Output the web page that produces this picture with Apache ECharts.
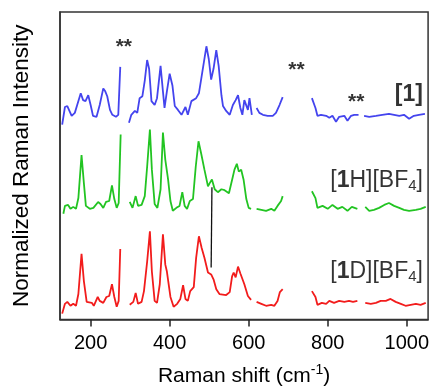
<!DOCTYPE html>
<html><head><meta charset="utf-8">
<script src="https://cdn.jsdelivr.net/npm/echarts@6/dist/echarts.min.js"></script>
<style>html,body{margin:0;padding:0;background:#fff}#c{width:432px;height:392px}</style>
</head><body><div id="c"></div>
<script>
// Raman shift (cm-1), normalized intensity (arbitrary, stacked offsets). '-' marks a gap.
const blue = [[128,199],[135,217],[141,218],[152,208],[160,211],[166,219],[175,231],[181,224],[187,223],[194,229],[200,219],[206,208],[215,207],[223,219],[232,236],[237,233],[242,228],[249,214],[255,209],[264,207],[270,209],[275,258],[286,'-'],
[297,201],[303,209],[312,213],[318,211],[324,226],[331,228],[337,244],[343,265],[348,256],[354,223],[362,219],[368,226],[377,259],[383,233],[387,216],[393,233],[400,251],[407,239],[413,218],[421,214],[430,209],[440,217],[446,209],[455,223],[467,226],[474,231],[480,246],[493,279],[499,266],[505,245],[511,256],[518,275],[524,259],[531,229],[535,218],[543,213],[552,209],[560,219],[567,224],[573,229],[579,216],[584,209],[589,224],[598,214],[602,226],[608,209],[614,'-'],
[620,216],[627,211],[636,209],[648,208],[661,208],[669,211],[678,219],[686,227],[720,'-'],
[760,226],[769,216],[774,208],[783,209],[796,208],[804,206],[812,208],[821,202],[829,207],[842,208],[850,203],[859,208],[867,209],[878,209],[885,'-'],
[892,208],[905,207],[922,208],[938,209],[955,210],[968,209],[981,208],[993,209],[1006,205],[1018,208],[1031,209],[1046,210]];

const green = [[131,108],[135,116],[143,117],[149,113],[156,115],[163,113],[169,124],[177,168],[183,139],[188,116],[198,113],[207,114],[211,113],[219,120],[225,118],[232,114],[239,120],[247,121],[254,137],[260,123],[266,114],[271,119],[276,189],[286,'-'],
[299,120],[306,114],[314,126],[320,116],[329,117],[337,126],[343,156],[350,194],[355,153],[362,118],[369,114],[377,133],[383,191],[389,163],[396,143],[402,121],[408,111],[417,114],[425,116],[432,130],[438,116],[444,113],[451,121],[459,123],[466,156],[473,182],[480,169],[488,153],[497,136],[501,139],[507,143],[514,133],[522,130],[531,133],[539,132],[550,129],[560,146],[564,153],[570,159],[575,151],[581,153],[587,143],[594,123],[600,114],[606,113],[614,'-'],
[620,113],[632,112],[644,111],[657,113],[665,111],[673,116],[682,121],[686,126],[720,'-'],
[760,131],[769,124],[774,114],[787,116],[800,113],[812,117],[825,113],[837,115],[850,111],[861,115],[875,113],[885,'-'],
[895,115],[905,111],[917,112],[930,114],[943,117],[955,119],[968,116],[981,114],[993,112],[1006,111],[1023,112],[1035,113],[1048,115]];

const red = [[128,6],[135,16],[141,18],[149,14],[156,16],[163,14],[169,26],[177,67],[183,39],[190,18],[203,17],[208,14],[218,23],[223,19],[232,17],[240,23],[247,24],[254,36],[260,23],[266,13],[271,19],[275,72],[286,'-'],
[299,15],[308,18],[314,27],[320,16],[329,18],[335,29],[343,59],[350,90],[355,49],[362,19],[368,17],[375,36],[383,87],[389,56],[393,49],[402,23],[410,13],[419,16],[427,21],[434,35],[440,21],[446,19],[452,29],[461,33],[467,63],[474,85],[481,73],[488,63],[497,48],[505,46],[511,41],[518,31],[526,26],[543,25],[552,28],[558,44],[562,48],[567,43],[573,54],[579,47],[584,47],[589,36],[598,24],[606,20],[614,'-'],
[620,18],[632,16],[644,14],[657,15],[665,14],[673,19],[679,28],[686,31],[720,'-'],
[760,29],[769,23],[774,15],[785,17],[796,16],[804,19],[816,17],[829,19],[842,18],[854,19],[864,18],[875,19],[885,'-'],
[895,17],[909,16],[922,17],[934,19],[947,19],[959,21],[972,18],[985,16],[997,14],[1010,15],[1023,16],[1035,15],[1048,17]];

const tieLine = [[507,135],[505,53]];
const starMarks = [[284,278],[721,255],[872,222]];
const sampleNames = ['[1]','[1H][BF4]','[1D][BF4]'];
const samplePos = [[1041,230],[1041,142],[1041,49]];
const xTicks = [200,400,600,800,1000];

const FONT = "'Liberation Sans', Arial, sans-serif";
const richName = {
  '[1]': '{bb|[1]}',
  '[1H][BF4]': '{n|[}{bb|1}{n|H][BF}{sub|4}{n|]}',
  '[1D][BF4]': '{n|[}{bb|1}{n|D][BF}{sub|4}{n|]}'
};

const chart = echarts.init(document.getElementById('c'), null, {renderer:'canvas'});
const lineSeries = (data, color) => ({
  type:'line', data, symbol:'none', connectNulls:false, animation:false,
  lineStyle:{color, width:1.8}, silent:true
});
chart.setOption({
  animation:false,
  grid:{left:60, right:3, top:12, bottom:66, show:true, borderColor:'#333', borderWidth:1.5},
  xAxis:{type:'value', min:122.5, max:1054,
    axisLine:{show:true, lineStyle:{color:'#333', width:1.5}},
    axisTick:{show:true, inside:false, length:7, lineStyle:{color:'#222', width:1.5}, customValues:xTicks},
    axisLabel:{show:true, margin:14, fontSize:20, color:'#000', fontFamily:FONT, customValues:xTicks, formatter:v=>String(v)},
    splitLine:{show:false},
    name:'{a|Raman shift (cm}{s|-1}{a|)}', nameLocation:'middle', nameGap:44,
    nameTextStyle:{rich:{a:{fontSize:21, color:'#000', fontFamily:FONT}, s:{fontSize:14, color:'#000', fontFamily:FONT, padding:[0,0,12,0]}}}
  },
  yAxis:{type:'value', min:0, max:314,
    axisLine:{show:true, lineStyle:{color:'#333', width:1.5}},
    axisTick:{show:false}, axisLabel:{show:false}, splitLine:{show:false},
    name:'Normalized Raman Intensity', nameLocation:'middle', nameGap:27,
    nameTextStyle:{fontSize:22.5, color:'#000', fontFamily:FONT}
  },
  series:[
    lineSeries(blue, '#4444ee'),
    lineSeries(green, '#22c422'),
    lineSeries(red, '#f21c1c'),
    {type:'line', data:tieLine, symbol:'none', lineStyle:{color:'#111', width:1.3}, silent:true},
    {type:'scatter', data:starMarks, symbolSize:0, silent:true,
      label:{show:true, position:'inside', formatter:'**', fontSize:21, fontWeight:'bold', color:'#000', fontFamily:FONT}},
    {type:'scatter', symbolSize:0, silent:true,
      data: sampleNames.map((n,i)=>({name:n, value:samplePos[i]})),
      label:{show:true, position:'left', distance:0, color:'#000', fontFamily:FONT,
        formatter:p=>richName[p.name],
        rich:{
          n:{fontSize:23, color:'#000', fontFamily:FONT},
          bb:{fontSize:23, fontWeight:'bold', color:'#000', fontFamily:FONT},
          sub:{fontSize:15, color:'#000', fontFamily:FONT, padding:[10,0,0,0]}
        }}
    }
  ]
});
</script></body></html>
